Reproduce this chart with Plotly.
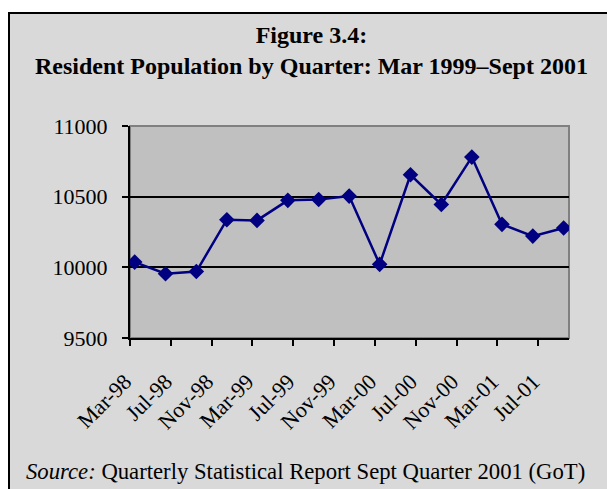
import plotly.graph_objects as go

# Quarterly resident population (persons)
quarters = [
    "1998-03-15", "1998-06-15", "1998-09-15", "1998-12-15",
    "1999-03-15", "1999-06-15", "1999-09-15", "1999-12-15",
    "2000-03-15", "2000-06-15", "2000-09-15", "2000-12-15",
    "2001-03-15", "2001-06-15", "2001-09-15",
]
population = [
    10037, 9955, 9970, 10337,
    10332, 10474, 10480, 10504,
    10021, 10655, 10445, 10780,
    10304, 10221, 10278,
]
y_ticks = [9500, 10000, 10500, 11000]
y_tick_labels = ["9500", "10000", "10500", "11000"]

title_text = "<b>Figure 3.4:<br>Resident Population by Quarter: Mar 1999–Sept 2001</b>"
source_text = "<i>Source:</i> Quarterly Statistical Report Sept Quarter 2001 (GoT)"

W, H = 607, 489
L, R, T, B = 130, 569, 126, 338  # plot area in pixels
pw, ph = R - L, B - T


def px_x(x):
    return (x - L) / pw


def px_y(y):
    return (B - y) / ph


serif = "Liberation Serif, Times New Roman, serif"
navy = "#000080"

fig = go.Figure(
    go.Scatter(
        x=quarters,
        y=population,
        mode="lines+markers",
        line=dict(color=navy, width=2.5),
        marker=dict(symbol="diamond", size=12, color=navy),
        hoverinfo="x+y",
    )
)

fig.update_layout(
    width=W,
    height=H,
    margin=dict(l=L, r=W - R, t=T, b=H - B),
    paper_bgcolor="white",
    plot_bgcolor="rgba(0,0,0,0)",
    showlegend=False,
    font=dict(family=serif, color="black", size=22),
    shapes=[
        # outer chart frame
        dict(type="rect", xref="paper", yref="paper", layer="below",
             x0=px_x(9), x1=px_x(620), y0=px_y(500), y1=px_y(13),
             fillcolor="#d9d9d9", line=dict(color="black", width=2)),
        # plot area
        dict(type="rect", xref="paper", yref="paper", layer="below",
             x0=0, x1=1, y0=0, y1=1,
             fillcolor="#c0c0c0", line=dict(color="#808080", width=2)),
        # grey top edge of the plot area
        dict(type="line", xref="paper", yref="paper", layer="above",
             x0=0.003, x1=1, y0=1, y1=1,
             line=dict(color="#808080", width=2)),
    ],
    annotations=[
        dict(text=title_text, xref="paper", yref="paper",
             x=px_x(311), y=px_y(51), xanchor="center", yanchor="middle",
             showarrow=False, font=dict(family=serif, size=24, color="black")),
        dict(text=source_text, xref="paper", yref="paper",
             x=px_x(24), y=px_y(471), xanchor="left", yanchor="middle",
             showarrow=False, font=dict(family=serif, size=22.7, color="black")),
    ],
)

fig.update_xaxes(
    type="date",
    range=["1998-03-01", "2001-10-01"],
    tick0="1998-03-01",
    dtick="M4",
    tickformat="%b-%y",
    tickangle=-45,
    ticks="outside",
    ticklen=6,
    tickwidth=2,
    tickcolor="black",
    ticklabelstandoff=14,
    ticklabelshift=-5,
    showline=True,
    linecolor="black",
    linewidth=2,
    showgrid=False,
    zeroline=False,
    tickfont=dict(family=serif, size=22, color="black"),
)

fig.update_yaxes(
    range=[9500, 11000],
    tickvals=y_ticks,
    ticktext=y_tick_labels,
    ticks="outside",
    ticklen=6,
    tickwidth=2,
    tickcolor="black",
    ticklabelstandoff=10,
    showline=True,
    linecolor="black",
    linewidth=2,
    showgrid=True,
    gridcolor="black",
    gridwidth=2,
    zeroline=False,
    tickfont=dict(family=serif, size=22, color="black"),
)

fig.write_html("out.html")
